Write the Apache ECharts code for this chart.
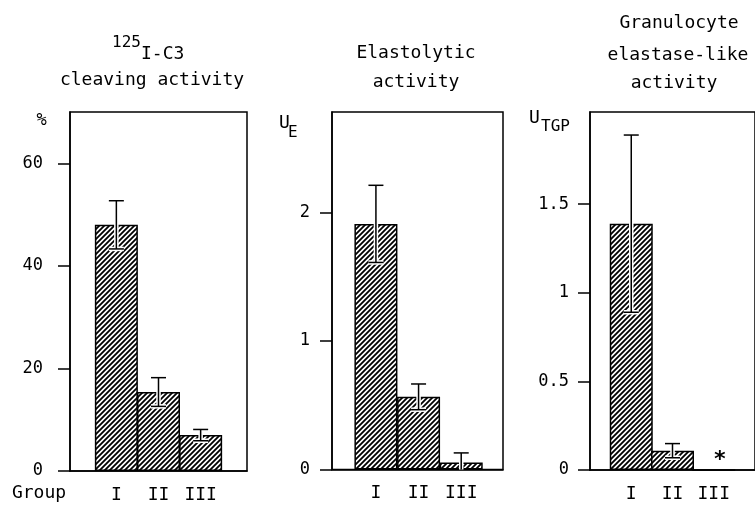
<!DOCTYPE html>
<html><head><meta charset="utf-8">
<script src="https://cdn.jsdelivr.net/npm/echarts@6/dist/echarts.min.js"></script>
<style>html,body{margin:0;padding:0;background:#fff}#c{width:755px;height:512px}</style>
</head><body><div id="c"></div>
<script>
// ---- data ----
const groups = ['I', 'II', 'III'];
const groupX = [1, 2, 3];
const c3Mean = [48, 15.4, 7];
const c3Err = [4.7, 2.8, 1.1];
const elastMean = [1.91, 0.565, 0.054];
const elastErr = [0.30, 0.10, 0.075];
const tgpMean = [1.39, 0.109, 0];
const tgpErr = [0.50, 0.04, 0];
const tgpNotes = ['', '', '*'];
const c3Ticks = [0, 20, 40, 60];
const elastTicks = [0, 1, 2];
const tgpTicks = [0, 0.5, 1, 1.5];

const FONT = 'DejaVu Sans Mono';
const BLACK = '#000';

// hatch pattern
function hatch() {
  const s = 5;
  const cv = document.createElement('canvas');
  cv.width = s; cv.height = s;
  const g = cv.getContext('2d');
  g.fillStyle = '#fff'; g.fillRect(0, 0, s, s);
  g.strokeStyle = '#000'; g.lineWidth = 1.8;
  g.beginPath();
  g.moveTo(-1, s + 1); g.lineTo(s + 1, -1);
  g.moveTo(-1, 1); g.lineTo(1, -1);
  g.moveTo(s - 1, s + 1); g.lineTo(s + 1, s - 1);
  g.stroke();
  return cv;
}
const pattern = { image: hatch(), repeat: 'repeat' };

const grids = [
  { left: 70, top: 112, width: 177, height: 359 },
  { left: 332, top: 112, width: 171, height: 357.5 },
  { left: 590, top: 112, width: 172, height: 358 }
];
const xRanges = [[-0.1, 4.1], [-0.03, 3.98], [0, 4]];
const yMax = [70, 2.78, 2.02];
const yTicks = [c3Ticks, elastTicks, tgpTicks];
const labelMargins = [27, 22, 21];
const means = [c3Mean, elastMean, tgpMean];
const errs = [c3Err, elastErr, tgpErr];

const xAxis = grids.map((g, i) => ({
  type: 'value', gridIndex: i, min: xRanges[i][0], max: xRanges[i][1],
  axisLine: { show: true, onZero: false, lineStyle: { color: BLACK, width: 1.5 } },
  axisTick: { show: false },
  splitLine: { show: false },
  axisLabel: {
    customValues: groupX, margin: 15,
    formatter: v => groups[groupX.indexOf(v)] || '',
    fontFamily: FONT, fontSize: 18, color: BLACK
  }
}));
const yAxis = grids.map((g, i) => ({
  type: 'value', gridIndex: i, min: 0, max: yMax[i],
  axisLine: { show: true, onZero: false, lineStyle: { color: BLACK, width: 1.5 } },
  axisTick: { show: true, inside: false, length: 12, customValues: yTicks[i], lineStyle: { color: BLACK, width: 1.5 } },
  splitLine: { show: false },
  axisLabel: {
    customValues: yTicks[i], margin: labelMargins[i],
    fontFamily: FONT, fontSize: 17, color: BLACK
  }
}));

const series = [];
means.forEach((m, i) => {
  series.push({
    type: 'bar', xAxisIndex: i, yAxisIndex: i, barWidth: 43,
    data: groupX.map((x, j) => [x, m[j]]),
    itemStyle: { color: pattern, borderColor: BLACK, borderWidth: 1.5 },
    silent: true, animation: false
  });
  series.push({
    type: 'custom', xAxisIndex: i, yAxisIndex: i, z: 5,
    data: groupX.map((x, j) => [x, m[j], errs[i][j]]),
    renderItem: (params, api) => {
      const x = api.value(0), mv = api.value(1), e = api.value(2);
      if (!e) return null;
      const top = api.coord([x, mv + e]);
      const lowV = mv - e;
      const bot = api.coord([x, Math.max(0, lowV)]);
      const cw = 7.5;
      const segs = [[top[0], top[1], bot[0], bot[1]], [top[0] - cw, top[1], top[0] + cw, top[1]]];
      if (lowV > 0) segs.push([bot[0] - cw, bot[1], bot[0] + cw, bot[1]]);
      const children = [];
      segs.forEach(s => children.push({ type: 'line', shape: { x1: s[0], y1: s[1], x2: s[2], y2: s[3] }, style: { stroke: '#fff', lineWidth: 4.5 } }));
      segs.forEach(s => children.push({ type: 'line', shape: { x1: s[0], y1: s[1], x2: s[2], y2: s[3] }, style: { stroke: BLACK, lineWidth: 1.5 } }));
      return { type: 'group', children };
    },
    silent: true, animation: false
  });
});
// note marks (e.g. "*" = not detected) above panel 3 bars
series.push({
  type: 'custom', xAxisIndex: 2, yAxisIndex: 2, z: 6,
  data: groupX.map((x, j) => [x, tgpMean[j]]),
  renderItem: (params, api) => {
    const note = tgpNotes[params.dataIndex];
    if (!note) return null;
    const p = api.coord([api.value(0), api.value(1)]);
    return { type: 'text', x: p[0] + 6, y: p[1] - 10, style: { text: note, fontFamily: FONT, fontSize: 22, fontWeight: 'bold', fill: BLACK, align: 'center', verticalAlign: 'middle' } };
  },
  silent: true, animation: false
});

function txt(text, x, y, size, align) {
  return { type: 'text', x, y, style: { text, fontFamily: FONT, fontSize: size, fill: BLACK, align: align || 'center', verticalAlign: 'middle' } };
}

const option = {
  backgroundColor: '#fff',
  animation: false,
  grid: grids.map(g => Object.assign({ show: true, borderColor: BLACK, borderWidth: 1.5, backgroundColor: 'transparent' }, g)),
  xAxis, yAxis, series,
  graphic: [
    txt('125', 112, 43, 16, 'left'),
    txt('I-C3', 141, 54, 18, 'left'),
    txt('cleaving activity', 152, 80, 18),
    txt('Elastolytic', 416, 53, 18),
    txt('activity', 416, 82, 18),
    txt('Granulocyte', 679, 23, 18),
    txt('elastase-like', 678, 55, 18),
    txt('activity', 674, 83, 18),
    txt('%', 41.5, 121, 17),
    txt('U', 279, 123, 18, 'left'),
    txt('E', 288, 133, 16, 'left'),
    txt('U', 529, 118, 18, 'left'),
    txt('TGP', 541, 127, 16, 'left'),
    txt('Group', 39, 493, 18)
  ]
};
echarts.init(document.getElementById('c')).setOption(option);
</script></body></html>
